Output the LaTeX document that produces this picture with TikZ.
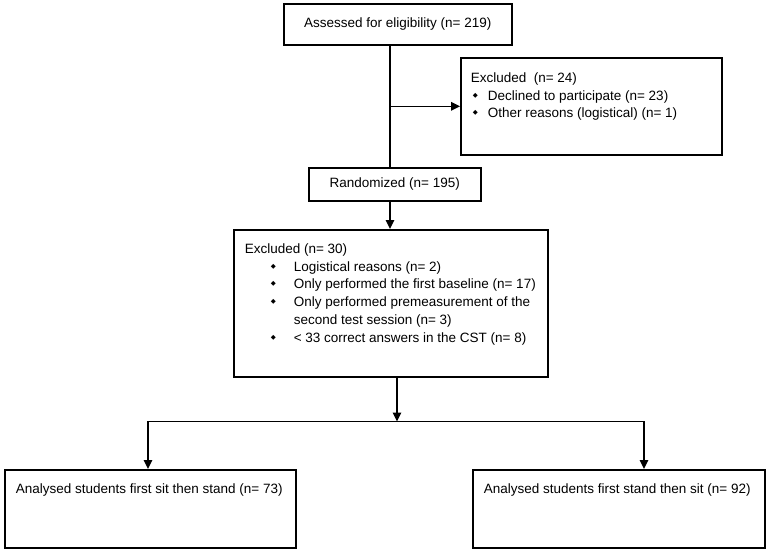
\documentclass[tikz,border=0pt]{standalone}
\usepackage{fontspec}
\setmainfont{Liberation Sans}
\newfontfamily\markfont{DejaVu Sans}
\usepackage{tikz}
\usetikzlibrary{arrows.meta}

% small filled diamond used as list bullet
\newcommand{\listmark}{\raisebox{3pt}{\markfont\fontsize{6.5}{6.5}\selectfont ◆}}

\begin{document}
\begin{tikzpicture}[
  x=1pt,
  y=-1pt,
  font=\fontsize{13.5}{17.7}\selectfont,
  box/.style={
    rectangle,
    draw,
    line width=1.6pt,
    inner sep=0pt,
    anchor=north west
  },
  midbox/.style={box, align=center},
  listbox/.style={box, inner xsep=11pt, inner ysep=14pt},
  link/.style={line width=1.6pt},
  arrow/.style={-{Triangle[length=9pt, width=8.5pt]}, line width=1.6pt}
]
\useasboundingbox (0,0) rectangle (767,550);

\node[midbox, minimum width=228, minimum height=41] (assessed) at (283,3)
{Assessed for eligibility (n= 219)};

\node[listbox, inner xsep=10pt, inner ysep=15pt] (excl1) at (460,57)
{\parbox[t][67pt][t]{241pt}{Excluded\ \ (n= 24)\\
\hspace*{2pt}\makebox[15pt][l]{\listmark}Declined to participate (n= 23)\\
\hspace*{2pt}\makebox[15pt][l]{\listmark}Other reasons (logistical) (n= 1)}};

\node[midbox, minimum width=172, minimum height=33] (rand) at (308,167)
{Randomized (n= 195)};

\node[listbox] (excl2) at (233,229)
{\parbox[t][119pt][t]{292pt}{Excluded (n= 30)\\
\hspace*{26pt}\makebox[23pt][l]{\listmark}Logistical reasons (n= 2)\\
\hspace*{26pt}\makebox[23pt][l]{\listmark}Only performed the first baseline (n= 17)\\
\hspace*{26pt}\makebox[23pt][l]{\listmark}Only performed premeasurement of the\\
\hspace*{49pt}second test session (n= 3)\\
\hspace*{26pt}\makebox[23pt][l]{\listmark}< 33 correct answers in the CST (n= 8)}};

\node[listbox] (sitstand) at (4,469)
{\parbox[t][50pt][t]{269pt}{Analysed students first sit then stand (n= 73)}};

\node[listbox] (standsit) at (472,469)
{\parbox[t][50pt][t]{270pt}{Analysed students first stand then sit (n= 92)}};

\coordinate (spine) at (390,0);
\coordinate (split) at (397,421.5);
\coordinate (ldrop) at (148,421.5);
\coordinate (rdrop) at (644,421.5);

\draw[link] (assessed.south -| spine) -- (rand.north -| spine);
\draw[arrow] (excl1.west -| spine) -- (excl1.west);
\draw[arrow] (rand.south -| spine) -- (excl2.north -| spine);
\draw[arrow] (excl2.south -| split) -- (split);
\draw[arrow] (split) -- (ldrop) -- (ldrop |- sitstand.north);
\draw[arrow] (split) -- (rdrop) -- (rdrop |- standsit.north);

\end{tikzpicture}
\end{document}
